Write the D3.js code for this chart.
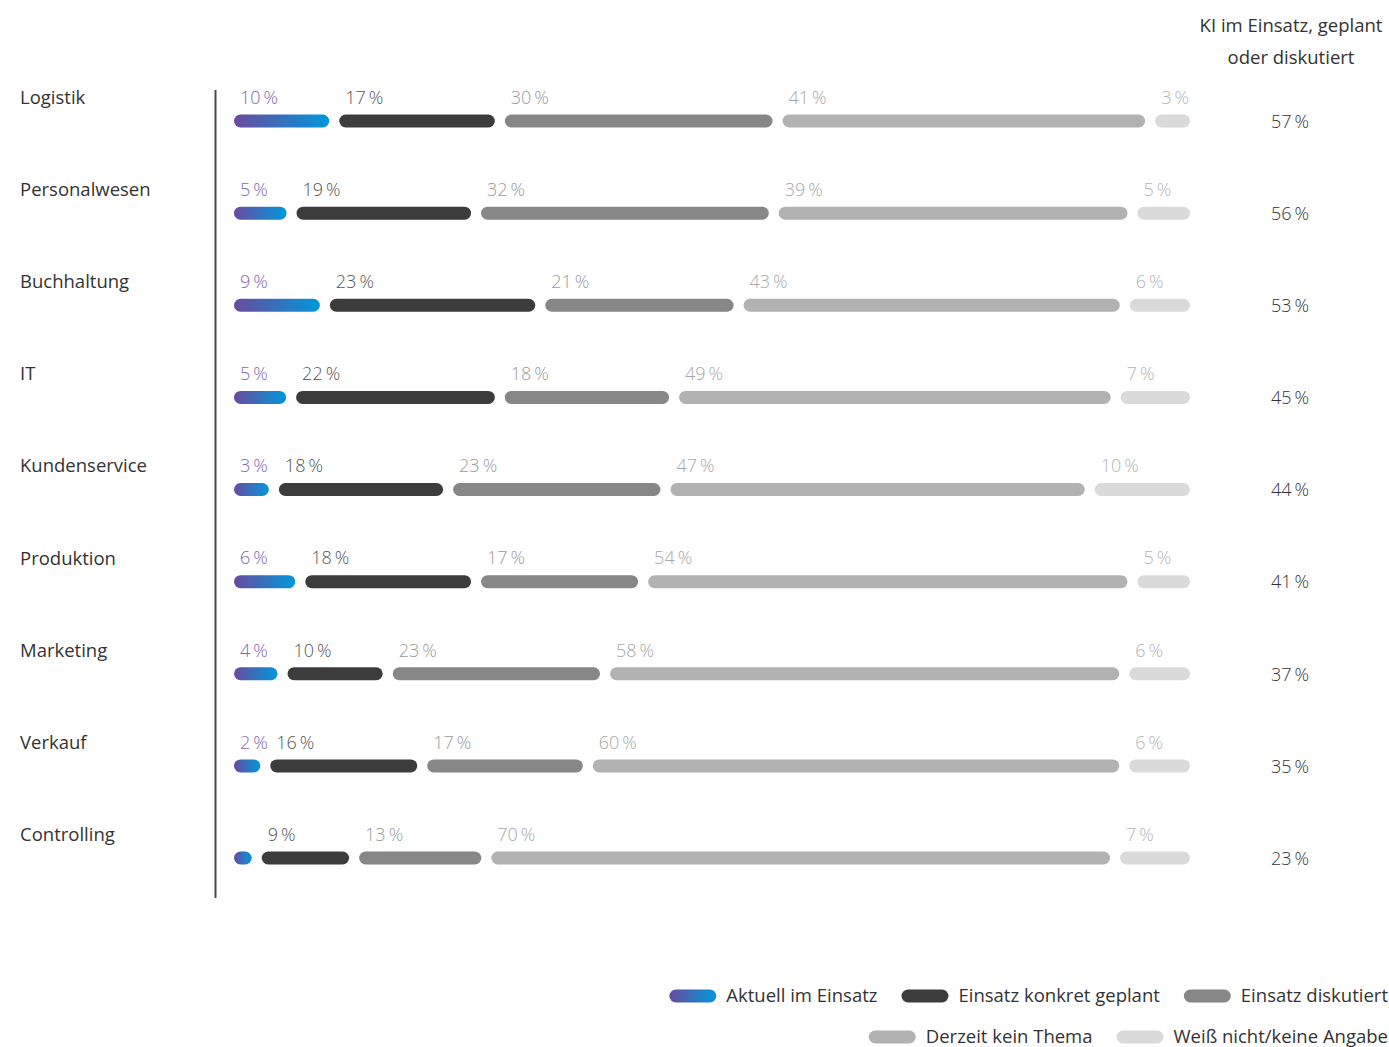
<!DOCTYPE html>
<html lang="de">
<head>
<meta charset="utf-8">
<script src="https://cdn.jsdelivr.net/npm/d3@7"></script>
<style>
  html, body { margin: 0; padding: 0; background: #fff; }
  svg { display: block; font-family: "Open Sans", "Noto Sans", sans-serif; }
</style>
</head>
<body>
<svg id="chart" width="1389" height="1047"></svg>
<script>
// Bereiche (Zeilen von oben nach unten)
const categories = ["Logistik", "Personalwesen", "Buchhaltung", "IT", "Kundenservice",
                    "Produktion", "Marketing", "Verkauf", "Controlling"];

// Antwortkategorien (Segmente je Zeile, von links nach rechts)
const seriesNames = ["Aktuell im Einsatz", "Einsatz konkret geplant", "Einsatz diskutiert",
                     "Derzeit kein Thema", "Weiß nicht/keine Angabe"];

// Anteile in Prozent je Antwortkategorie
const aktuell   = [10,  5,  9,  5,  3,  6,  4,  2,  1];
const geplant   = [17, 19, 23, 22, 18, 18, 10, 16,  9];
const diskutiert= [30, 32, 21, 18, 23, 17, 23, 17, 13];
const keinThema = [41, 39, 43, 49, 47, 54, 58, 60, 70];
const weissNicht= [ 3,  5,  6,  7, 10,  5,  6,  6,  7];

// Summe "KI im Einsatz, geplant oder diskutiert"
const totals = [57, 56, 53, 45, 44, 41, 37, 35, 23];

// Werte ohne Beschriftung (zu schmales Segment)
const hiddenLabels = [[8, 0]];

const totalTitle = ["KI im Einsatz, geplant", "oder diskutiert"];

const series = [aktuell, geplant, diskutiert, keinThema, weissNicht];
const fills = ["url(#gradAktuell)", "#3c3c3c", "#878787", "#b2b2b2", "#dadada"];
const labelColors = ["#8466b0", "#555555", "#9a9a9a", "#a8a8a8", "#b5b5b5"];

const pct = v => v + "\u2009%";

const svg = d3.select("#chart");

// Verlauf für "Aktuell im Einsatz"
const defs = svg.append("defs");
const grad = defs.append("linearGradient")
  .attr("id", "gradAktuell")
  .attr("x1", "0%").attr("x2", "100%").attr("y1", "0%").attr("y2", "0%");
grad.append("stop").attr("offset", "0%").attr("stop-color", "#6a4a9e");
grad.append("stop").attr("offset", "100%").attr("stop-color", "#0098db");

// Layout
const barLeft = 234, barRight = 1190;
const barH = 13, gap = 10, cap = 9;
const y = d3.scalePoint().domain(categories).range([121, 858]);

// Achsenlinie links
svg.append("line")
  .attr("x1", 215.5).attr("x2", 215.5)
  .attr("y1", 90).attr("y2", 898)
  .attr("stroke", "#4a4a4a").attr("stroke-width", 2);

// Titel der Summenspalte
svg.append("text")
  .attr("text-anchor", "middle")
  .attr("font-size", 18.5)
  .attr("fill", "#333")
  .selectAll("tspan").data(totalTitle).join("tspan")
  .attr("x", 1291)
  .attr("y", (d, i) => 32 + i * 32)
  .text(d => d);

categories.forEach((cat, ri) => {
  const vals = series.map(s => s[ri]);
  const sum = d3.sum(vals);
  const n = vals.length;
  const x = d3.scaleLinear()
    .domain([0, sum])
    .range([0, (barRight - barLeft) - (n - 1) * gap - n * cap]);

  const cy = y(cat);
  let cursor = barLeft;
  const segs = vals.map((v, si) => {
    const w = x(v) + cap;
    const s = { v, si, x0: cursor, w };
    cursor += w + gap;
    return s;
  });

  const row = svg.append("g");

  // Kategoriebeschriftung
  row.append("text")
    .attr("x", 20).attr("y", cy - 22)
    .attr("dominant-baseline", "middle")
    .attr("font-size", 18.5)
    .attr("fill", "#333")
    .text(cat);

  // Segmente
  row.selectAll("rect").data(segs).join("rect")
    .attr("x", d => d.x0)
    .attr("y", cy - barH / 2)
    .attr("width", d => d.w)
    .attr("height", barH)
    .attr("rx", barH / 2).attr("ry", barH / 2)
    .attr("fill", d => fills[d.si]);

  // Wertbeschriftungen
  row.selectAll("text.val")
    .data(segs.filter(d => !hiddenLabels.some(h => h[0] === ri && h[1] === d.si)))
    .join("text")
    .attr("class", "val")
    .attr("x", d => d.x0 + 6)
    .attr("y", cy - 22)
    .attr("dominant-baseline", "middle")
    .attr("font-size", 18)
    .attr("font-weight", 300)
    .attr("fill", d => labelColors[d.si])
    .text(d => pct(d.v));

  // Summe rechts
  row.append("text")
    .attr("x", 1290).attr("y", cy + 2)
    .attr("text-anchor", "middle")
    .attr("dominant-baseline", "middle")
    .attr("font-size", 18)
    .attr("font-weight", 300)
    .attr("fill", "#333")
    .text(pct(totals[ri]));
});

// Legende (rechtsbündig, zwei Zeilen)
const legendRows = [[0, 1, 2], [3, 4]];
const legendY = [997, 1038];
const swW = 47, swGap = 10, itemGap = 24, legendRight = 1388;

legendRows.forEach((items, li) => {
  const g = svg.append("g");
  const labels = g.selectAll("text").data(items).join("text")
    .attr("font-size", 18.5)
    .attr("fill", "#333")
    .attr("dominant-baseline", "middle")
    .attr("y", legendY[li])
    .text(d => seriesNames[d]);
  const widths = [];
  labels.each(function () { widths.push(this.getComputedTextLength()); });
  let right = legendRight;
  const pos = [];
  for (let i = items.length - 1; i >= 0; i--) {
    const tx = right - widths[i];
    const sx = tx - swGap - swW;
    pos[i] = { tx, sx };
    right = sx - itemGap;
  }
  labels.attr("x", (d, i) => pos[i].tx);
  g.selectAll("rect").data(items).join("rect")
    .attr("x", (d, i) => pos[i].sx)
    .attr("y", legendY[li] - 1 - barH / 2)
    .attr("width", swW)
    .attr("height", barH)
    .attr("rx", barH / 2)
    .attr("fill", d => fills[d]);
});
</script>
</body>
</html>
